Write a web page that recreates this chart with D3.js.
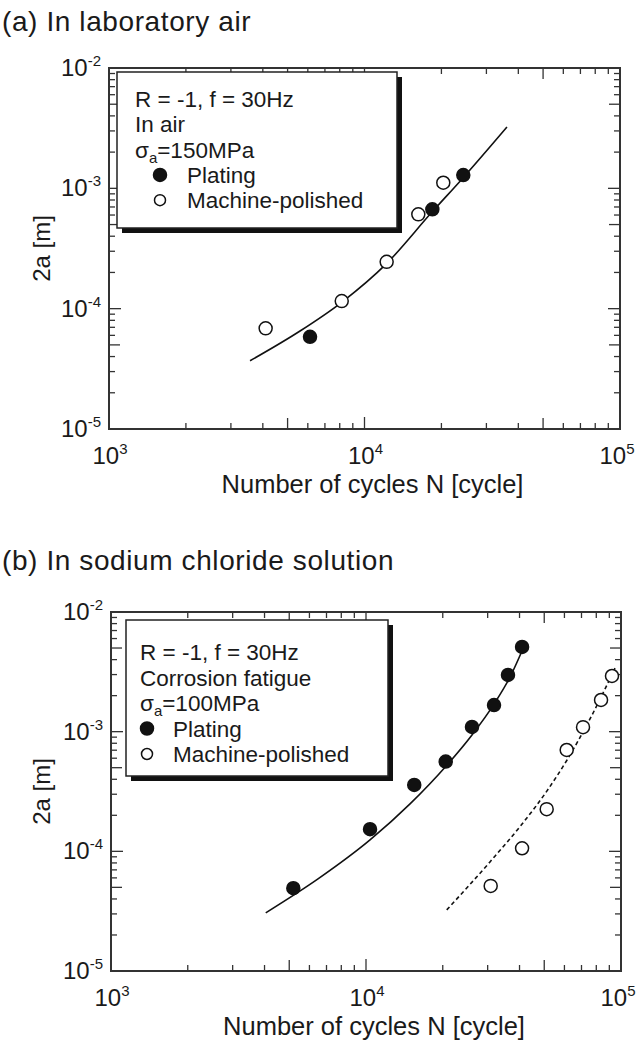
<!DOCTYPE html>
<html>
<head>
<meta charset="utf-8">
<script src="https://cdn.jsdelivr.net/npm/d3@7"></script>
<style>
  body { margin: 0; background: #fff; }
  text { font-family: "Liberation Sans", Arial, Helvetica, sans-serif; fill: #1a1a1a; }
</style>
</head>
<body>
<script>
// Daten
const xTickExp = [3, 4, 5];
const yTickExp = [-2, -3, -4, -5];

// (a) Laborluft
const airPlatingN = [6120, 18430, 24360];
const airPlatingA = [5.84e-5, 6.69e-4, 1.29e-3];
const airPolishedN = [4103, 8145, 12210, 16240, 20340];
const airPolishedA = [6.86e-5, 1.156e-4, 2.45e-4, 6.08e-4, 1.113e-3];
const airFitN = [3565, 5593, 8166, 12250, 18370, 24290, 36100];
const airFitA = [3.69e-5, 6.52e-5, 1.135e-4, 2.39e-4, 6.35e-4, 1.22e-3, 3.23e-3];

// (b) Natriumchloridlösung
const naclPlatingN = [5188, 10370, 15460, 20540, 26040, 31770, 36040, 40930];
const naclPlatingA = [4.92e-5, 1.53e-4, 3.59e-4, 5.62e-4, 1.094e-3, 1.67e-3, 2.98e-3, 5.1e-3];
const naclPolishedN = [30830, 40930, 51120, 61240, 70970, 83510, 92190];
const naclPolishedA = [5.14e-5, 1.06e-4, 2.25e-4, 7.03e-4, 1.09e-3, 1.84e-3, 2.92e-3];
const naclFitPlatingN = [4044, 6483, 10370, 14880, 20540, 26040, 31770, 36710, 42030];
const naclFitPlatingA = [3.06e-5, 5.88e-5, 1.245e-4, 2.49e-4, 5.12e-4, 9.39e-4, 1.70e-3, 2.86e-3, 5.4e-3];
const naclFitPolishedN = [20730, 30630, 40930, 51260, 61420, 75570, 94740];
const naclFitPolishedA = [3.24e-5, 8.16e-5, 1.69e-4, 3.2e-4, 5.8e-4, 1.277e-3, 3.4e-3];

const width = 639, height = 1048;

const svg = d3.select("body").append("svg")
    .attr("width", width)
    .attr("height", height)
    .attr("viewBox", [0, 0, width, height]);

const zip = (xs, ys) => xs.map((v, i) => [v, ys[i]]);

function drawPanel(p) {
  const x = d3.scaleLog().domain([1e3, 1e5]).range([p.left, p.right]);
  const y = d3.scaleLog().domain([1e-5, 1e-2]).range([p.bottom, p.top]);
  const g = svg.append("g");

  // Titel
  g.append("text").attr("x", 2).attr("y", p.titleY)
      .attr("font-size", 28).attr("letter-spacing", 0.6).text(p.title);

  // Ticks nach innen: Dekaden und 5er lang, Rest kurz
  const xMinor = [], yMinor = [];
  for (let e = 3; e < 5; e++) for (let k = 2; k <= 9; k++) xMinor.push(k * 10 ** e);
  for (let e = -5; e < -2; e++) for (let k = 2; k <= 9; k++) yMinor.push(k * 10 ** e);
  const len = v => {
    const m = Math.round(v / 10 ** Math.floor(Math.log10(v) + 1e-9));
    return m === 5 ? 11 : 6;
  };
  const ticks = g.append("g").attr("stroke", "#333").attr("stroke-width", 1.3);
  xMinor.concat([1e4]).forEach(v => {
    const l = v === 1e4 ? 12 : len(v);
    ticks.append("line").attr("x1", x(v)).attr("x2", x(v)).attr("y1", p.bottom).attr("y2", p.bottom - l);
    ticks.append("line").attr("x1", x(v)).attr("x2", x(v)).attr("y1", p.top).attr("y2", p.top + l);
  });
  yMinor.concat([1e-3, 1e-4]).forEach(v => {
    const l = (v === 1e-3 || v === 1e-4) ? 12 : len(v);
    ticks.append("line").attr("y1", y(v)).attr("y2", y(v)).attr("x1", p.left).attr("x2", p.left + l);
    ticks.append("line").attr("y1", y(v)).attr("y2", y(v)).attr("x1", p.right).attr("x2", p.right - l);
  });

  // Rahmen
  g.append("rect").attr("x", p.left).attr("y", p.top)
      .attr("width", p.right - p.left).attr("height", p.bottom - p.top)
      .attr("fill", "none").attr("stroke", "#333").attr("stroke-width", 2);

  // Achsenbeschriftungen
  const xl = g.selectAll(".xl").data(xTickExp).join("text")
      .attr("x", d => x(10 ** d) + (d === 5 ? -3 : 1)).attr("y", p.bottom + 35)
      .attr("text-anchor", "middle").attr("font-size", 24);
  xl.append("tspan").text("10");
  xl.append("tspan").attr("font-size", 15).attr("dy", -10).text(d => d);

  const yl = g.selectAll(".yl").data(yTickExp).join("text")
      .attr("x", p.left - 8).attr("y", d => y(10 ** d) + 8)
      .attr("text-anchor", "end").attr("font-size", 24);
  yl.append("tspan").text("10");
  yl.append("tspan").attr("font-size", 15).attr("dy", -10).text(d => d);

  g.append("text").attr("x", (p.left + p.right) / 2 + 8).attr("y", p.bottom + 64)
      .attr("text-anchor", "middle").attr("font-size", 25.5)
      .text("Number of cycles N [cycle]");
  g.append("text")
      .attr("transform", `translate(50,${(p.top + p.bottom) / 2}) rotate(-90)`)
      .attr("text-anchor", "middle").attr("font-size", 24)
      .text("2a [m]");

  // Kurven
  const line = d3.line().x(d => x(d[0])).y(d => y(d[1])).curve(d3.curveMonotoneX);
  p.fits.forEach(f => {
    g.append("path").datum(f.data).attr("d", line)
        .attr("fill", "none").attr("stroke", "#111").attr("stroke-width", 1.6)
        .attr("stroke-dasharray", f.dashed ? "4,3" : null);
  });

  // Punkte
  p.series.forEach(s => {
    g.append("g").selectAll("circle").data(s.data).join("circle")
        .attr("cx", d => x(d[0])).attr("cy", d => y(d[1])).attr("r", 6.5)
        .attr("fill", s.filled ? "#111" : "#fff")
        .attr("stroke", "#111").attr("stroke-width", 1.5);
  });

  // Legende mit Schatten
  const L = p.legend;
  g.append("rect").attr("x", L.x + 5).attr("y", L.y + 5).attr("width", L.w).attr("height", L.h).attr("fill", "#111");
  g.append("rect").attr("x", L.x).attr("y", L.y).attr("width", L.w).attr("height", L.h)
      .attr("fill", "#fff").attr("stroke", "#222").attr("stroke-width", 1.5);
  const lines = [p.cond, p.env];
  lines.forEach((t, i) => {
    g.append("text").attr("x", L.tx).attr("y", L.y0 + i * L.dy).attr("font-size", 22.5).text(t);
  });
  const sig = g.append("text").attr("x", L.tx).attr("y", L.y0 + 2 * L.dy).attr("font-size", 22.5);
  sig.append("tspan").text("σ");
  sig.append("tspan").attr("font-size", 15).attr("dy", 5).text("a");
  sig.append("tspan").attr("dy", -5).text("=" + p.stress);
  p.series.forEach((s, i) => {
    const yy = L.y0 + (3 + i) * L.dy;
    g.append("circle").attr("cx", L.mx).attr("cy", yy - 8).attr("r", s.filled ? 6.5 : 5.5)
        .attr("fill", s.filled ? "#111" : "#fff").attr("stroke", "#111").attr("stroke-width", 1.5);
    g.append("text").attr("x", L.lx).attr("y", yy).attr("font-size", 22.5).text(s.name);
  });
}

drawPanel({
  title: "(a) In laboratory air", titleY: 31,
  left: 109, right: 620, top: 68, bottom: 429,
  cond: "R = -1, f = 30Hz", env: "In air", stress: "150MPa",
  legend: { x: 117, y: 72, w: 280, h: 156, tx: 135, y0: 107, dy: 25.3, mx: 160, lx: 187 },
  fits: [{ data: zip(airFitN, airFitA), dashed: false }],
  series: [
    { name: "Plating", filled: true, data: zip(airPlatingN, airPlatingA) },
    { name: "Machine-polished", filled: false, data: zip(airPolishedN, airPolishedA) }
  ]
});

drawPanel({
  title: "(b) In sodium chloride solution", titleY: 570,
  left: 111, right: 621, top: 612, bottom: 971,
  cond: "R = -1, f = 30Hz", env: "Corrosion fatigue", stress: "100MPa",
  legend: { x: 126, y: 620, w: 262, h: 156, tx: 140, y0: 660, dy: 25.5, mx: 147, lx: 173 },
  fits: [
    { data: zip(naclFitPlatingN, naclFitPlatingA), dashed: false },
    { data: zip(naclFitPolishedN, naclFitPolishedA), dashed: true }
  ],
  series: [
    { name: "Plating", filled: true, data: zip(naclPlatingN, naclPlatingA) },
    { name: "Machine-polished", filled: false, data: zip(naclPolishedN, naclPolishedA) }
  ]
});
</script>
</body>
</html>
